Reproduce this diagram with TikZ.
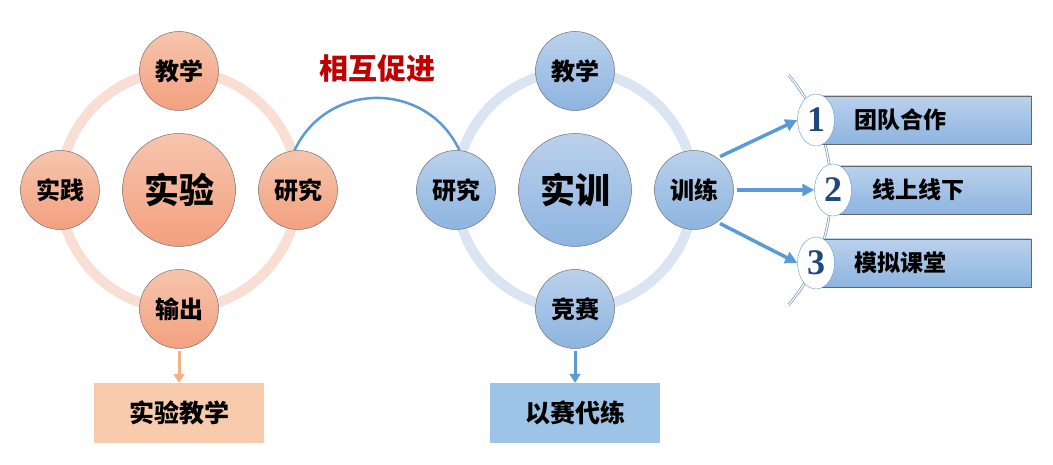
\documentclass[tikz,border=0pt]{standalone}
\usepackage{fontspec}
\newfontfamily\cjk{Noto Sans CJK SC}[BoldFont={Noto Sans CJK SC Black}]
\newfontfamily\numfont{Liberation Serif}
\usetikzlibrary{arrows.meta, positioning, shapes.geometric, backgrounds}

\definecolor{peachtop}{RGB}{246,197,173}
\definecolor{peachbot}{RGB}{243,160,127}
\definecolor{peachring}{RGB}{249,222,212}
\definecolor{peachbox}{RGB}{248,203,173}
\definecolor{peacharrow}{RGB}{244,177,131}
\definecolor{skytop}{RGB}{186,209,236}
\definecolor{skybot}{RGB}{141,180,224}
\definecolor{skyring}{RGB}{218,228,242}
\definecolor{skybox}{RGB}{157,195,230}
\definecolor{linkblue}{RGB}{91,155,213}
\definecolor{rimblue}{RGB}{120,150,190}
\definecolor{numblue}{RGB}{31,73,125}
\definecolor{titlered}{RGB}{192,0,0}

\begin{document}
\begin{tikzpicture}[
    x=1pt, y=1pt,
    node distance=119pt,
    on grid,
    hub/.style={circle, draw=black!55, line width=0.5pt, minimum size=113pt,
        inner sep=0pt, font=\cjk\bfseries\fontsize{35}{35}\selectfont},
    spoke/.style={circle, draw=black!55, line width=0.5pt, minimum size=79pt,
        inner sep=0pt, font=\cjk\bfseries\fontsize{24}{24}\selectfont},
    warm/.style={top color=peachtop, bottom color=peachbot},
    cool/.style={top color=skytop, bottom color=skybot},
    ring/.style={line width=10pt},
    outbox/.style={rectangle, minimum width=170pt, minimum height=60pt,
        font=\cjk\bfseries\fontsize{25}{25}\selectfont},
    drop/.style={-{Triangle[length=9pt, width=11pt]}, line width=3pt, shorten <=2pt},
    link/.style={draw=linkblue, line width=2.5pt},
    title/.style={text=titlered, inner sep=0pt,
        font=\cjk\bfseries\fontsize{29}{29}\selectfont},
    fan/.style={-{Triangle[length=12pt, width=12pt]}, draw=linkblue,
        line width=3.5pt, shorten <=3pt},
    rim/.style={draw=rimblue, double=white, double distance=1.2pt, line width=0.7pt},
    badge/.style={ellipse, draw=linkblue, fill=white, minimum width=37pt,
        minimum height=52pt, inner sep=0pt, text=numblue,
        font=\numfont\bfseries\fontsize{36}{36}\selectfont},
    bar/.style={rectangle, draw=black!60, line width=0.6pt, minimum height=48pt,
        top color=skytop, bottom color=skybot},
    bartext/.style={inner sep=0pt, font=\cjk\bfseries\fontsize{23}{23}\selectfont},
]
    \useasboundingbox (0,0) rectangle (1053,465);

    % left wheel
    \node[hub,   warm]             (LC) at (179,275) {实验};
    \node[spoke, warm, above=of LC] (LT) {教学};
    \node[spoke, warm, left =of LC] (LL) {实践};
    \node[spoke, warm, right=of LC] (LR) {研究};
    \node[spoke, warm, below=of LC] (LB) {输出};
    \node[outbox, fill=peachbox, below=104pt of LB] (LX) {实验教学};

    % right wheel
    \node[hub,   cool]             (RC) at (575,275) {实训};
    \node[spoke, cool, above=of RC] (RT) {教学};
    \node[spoke, cool, left =of RC] (RL) {研究};
    \node[spoke, cool, right=of RC] (RR) {训练};
    \node[spoke, cool, below=of RC] (RB) {竞赛};
    \node[outbox, fill=skybox, below=104pt of RB] (RX) {以赛代练};

    % list
    \node[badge, above right=70pt and 122pt of RR] (N1) {1};
    \node[badge, right=139pt of RR]                (N2) {2};
    \node[badge, below right=73pt and 122pt of RR] (N3) {3};
    \node[bartext, right=84pt of N1] (T1) {团队合作};
    \node[bartext, right=85pt of N2] (T2) {线上线下};
    \node[bartext, right=84pt of N3] (T3) {模拟课堂};

    \begin{scope}[on background layer]
        \draw[ring, peachring] (LC) circle[radius=119pt];
        \draw[ring, skyring]   (RC) circle[radius=119pt];
        \draw[rim] ([xshift=-40pt]RR.center) ++(40.5:177pt)
            arc[start angle=40.5, end angle=-40.5, radius=177pt];
        \node[bar, minimum width=215pt, right=107.5pt of N1] (B1) {};
        \node[bar, minimum width=198pt, right=99pt of N2]    (B2) {};
        \node[bar, minimum width=215pt, right=107.5pt of N3] (B3) {};
    \end{scope}

    \draw[drop, peacharrow] (LB.south) -- (LX.north);
    \draw[drop, linkblue]   (RB.south) -- (RX.north);

    \draw[link] (LR.95) to[out=65, in=115, looseness=1.2]
        node[title, above=14pt] {相互促进} (RL.85);

    \draw[fan] (RR.54)  -- (N1.west);
    \draw[fan] (RR.east) -- (N2.west);
    \draw[fan] (RR.-54) -- (N3.west);
\end{tikzpicture}
\end{document}
